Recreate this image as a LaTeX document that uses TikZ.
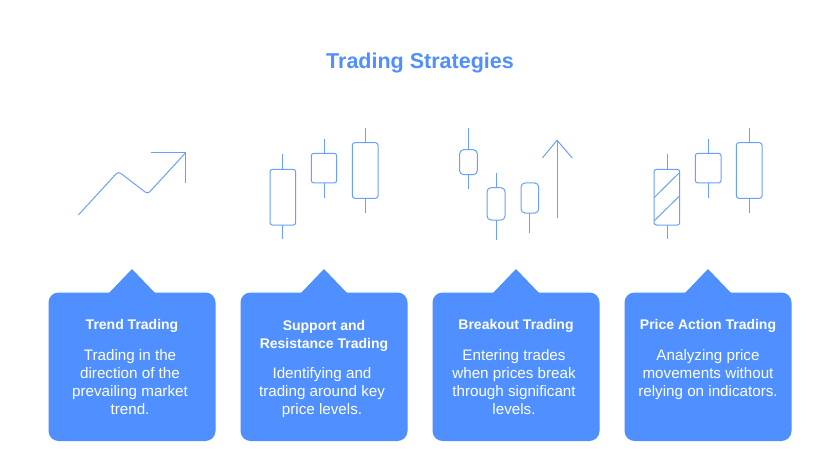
\documentclass[tikz,border=0pt]{standalone}
\usepackage{fontspec}
\setmainfont{Liberation Sans}
\definecolor{tradeblue}{HTML}{4F8FFF}
\tikzset{
    icon/.style={draw=tradeblue!85, line width=1pt},
    candle/.style={icon, rounded corners=2.5pt},
    card/.style={fill=tradeblue, rounded corners=10pt},
    heading/.style={text=white, align=center, inner sep=0pt, font=\bfseries\fontsize{14}{18}\selectfont},
    blurb/.style={text=white, align=center, inner sep=0pt, font=\fontsize{15.2}{18}\selectfont},
    headline/.style={text=tradeblue, inner sep=0pt, font=\bfseries\fontsize{21.5}{26}\selectfont}
}
\begin{document}
\begin{tikzpicture}[x=1pt, y=-1pt]
    \useasboundingbox (0,0) rectangle (840,473);

    % The title
    \node[headline] (title) at (420,62.5) {Trading Strategies};

    % the cards with their pointers
    \foreach \x in {48.5,240.5,432.5,624.5} {
        \fill[card] (\x,292.5) rectangle +(167,148.5);
        \fill[tradeblue] (\x+60.5,293) -- (\x+83.5,269) -- (\x+106.5,293) -- cycle;
    }

    % The arrow of Trend Trading
    \draw[icon, rounded corners=3pt] (78.3,215) -- (118.3,171.5) -- (147.7,194) -- (185.7,152.7);
    \draw[icon] (151,152.7) -- (185.7,152.7) -- (185.7,182.7);

    % the wide candles: wick x, wick top, wick bottom, box left, box top, box right, box bottom
    \foreach \wx/\wt/\wb/\bl/\bt/\br/\bb in {
        282.7/154.3/239.3/270/169.3/295.7/225,
        324/139/197.7/311.3/153.3/336.7/183,
        365/128.3/213.3/352.3/142.7/378/198.3,
        667/154.3/239.3/654/169.3/679.7/225,
        708/139/197.7/695.3/153.3/721/183,
        749/128.3/213.3/736.3/142.7/762/198.3} {
        \draw[icon] (\wx,\wt) -- (\wx,\bt);
        \draw[icon] (\wx,\bb) -- (\wx,\wb);
        \draw[candle] (\bl,\bt) rectangle (\br,\bb);
    }

    % the narrow candles of Breakout
    \foreach \wx/\wt/\wb/\bl/\bt/\br/\bb in {
        468.3/128.3/189.3/459.7/149.7/477.3/174.7,
        496/172.7/240/487/187.7/505/220,
        529.7/183/233.3/521/183/538.7/213} {
        \draw[icon] (\wx,\wt) -- (\wx,\bt);
        \draw[icon] (\wx,\bb) -- (\wx,\wb);
        \draw[candle, rounded corners=4pt] (\bl,\bt) rectangle (\br,\bb);
    }

    % The stripes of the first candle in Price Action
    \draw[icon] (654,197.7) -- (679.7,172.3);
    \draw[icon] (654,221) -- (679.7,195.7);

    % The arrow of Breakout
    \draw[icon] (557,218.3) -- (557,140.3);
    \draw[icon] (542.3,158) -- (557,140.3) -- (572.3,158);

    % Trend Trading
    \node[heading] (trendhead) at (132,326) {Trend Trading};
    \node[blurb] (trendtext) at (130,382) {Trading in the\\direction of the\\prevailing market\\trend.};

    % Support and Resistance Trading
    \node[heading] (supporthead) at (324,335.5) {Support and\\Resistance Trading};
    \node[blurb] (supporttext) at (322,392.5) {Identifying and\\trading around key\\price levels.};

    % Breakout Trading
    \node[heading] (breakhead) at (516,326) {Breakout Trading};
    \node[blurb] (breaktext) at (514,382) {Entering trades\\when prices break\\through significant\\levels.};

    % Price Action Trading
    \node[heading] (pricehead) at (708,326) {Price Action Trading};
    \node[blurb] (pricetext) at (708,374.5) {Analyzing price\\movements without\\relying on indicators.};
\end{tikzpicture}
\end{document}
